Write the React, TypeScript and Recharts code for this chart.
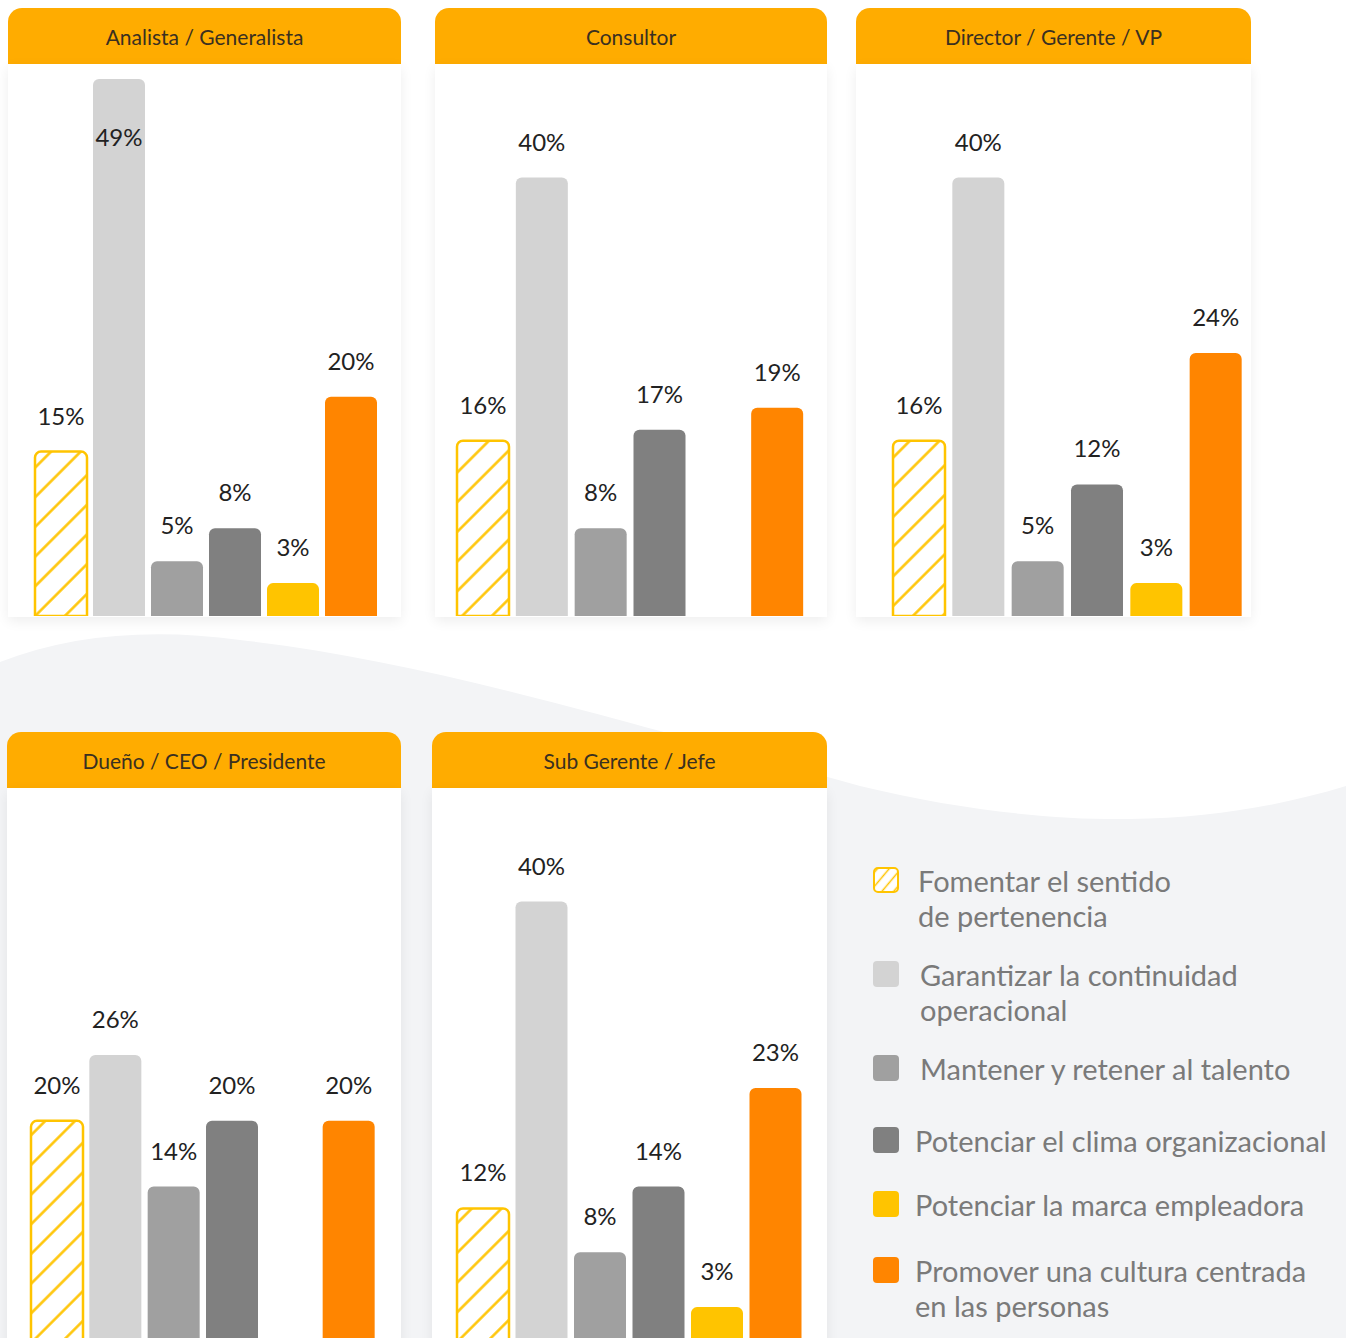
import React from 'react';
import { BarChart, Bar, XAxis, YAxis, Cell, LabelList } from 'recharts';

// categories in legend order (line breaks as in the legend)
const CATEGORIES = [
    'Fomentar el sentido\nde pertenencia',
    'Garantizar la continuidad\noperacional',
    'Mantener y retener al talento',
    'Potenciar el clima organizacional',
    'Potenciar la marca empleadora',
    'Promover una cultura centrada\nen las personas',
];

const COLORS = ['url(#hatch)', '#D3D3D3', '#A0A0A0', '#808080', '#FFC400', '#FF8500'];

// % per role, same order as CATEGORIES (null = no bar)
const ANALISTA = [15, 49, 5, 8, 3, 20];
const CONSULTOR = [16, 40, 8, 17, null, 19];
const DIRECTOR = [16, 40, 5, 12, 3, 24];
const DUENO = [20, 26, 14, 20, null, 20];
const SUBGERENTE = [12, 40, 8, 14, 3, 23];

const FONT = 'Lato, "Noto Sans", sans-serif';
const HATCH_YELLOW = '#FFC400';

interface PanelProps {
    title: string;
    values: (number | null)[];
    left: number;
    top: number;
    width: number;
    bodyHeight: number;
    ml: number;
    mr: number;
}

const renderLabel = (props: any) => {
    const { x, y, width, value } = props;
    if (value === null || value === undefined) return null;
    const cx = Number(x) + Number(width) / 2;
    // labels never go higher than the top of the chart area
    const ty = Math.max(Number(y) - 27, 82);
    return (
        <text x={cx} y={ty} textAnchor="middle" fontSize={24} fill="#222" fontFamily={FONT}>
            {`${value}%`}
        </text>
    );
};

function Panel({ title, values, left, top, width, bodyHeight, ml, mr }: PanelProps) {
    const data = CATEGORIES.map((c, i) => ({ name: c, value: values[i] }));
    return (
        <div style={{ position: 'absolute', left, top, width }}>
            <div
                style={{
                    height: 56,
                    background: '#FFAC00',
                    borderRadius: '14px 14px 0 0',
                    display: 'flex',
                    alignItems: 'center',
                    justifyContent: 'center',
                    fontFamily: FONT,
                    fontSize: 21,
                    color: '#3a3020',
                }}
            >
                {title}
            </div>
            <div
                style={{
                    height: bodyHeight,
                    background: '#fff',
                    boxShadow: '0 4px 12px rgba(0,0,0,0.07)',
                    position: 'relative',
                }}
            >
                <BarChart
                    width={width}
                    height={552}
                    data={data}
                    margin={{ top: 4, right: mr, left: ml, bottom: 0 }}
                    barCategoryGap={0}
                >
                    <XAxis dataKey="name" hide />
                    <YAxis domain={[0, 50]} hide />
                    <Bar dataKey="value" barSize={52} radius={[6, 6, 0, 0]} isAnimationActive={false}>
                        {data.map((d, i) => (
                            <Cell
                                key={d.name}
                                fill={COLORS[i]}
                                stroke={i === 0 ? HATCH_YELLOW : 'none'}
                                strokeWidth={i === 0 ? 2.5 : 0}
                            />
                        ))}
                        <LabelList dataKey="value" content={renderLabel} />
                    </Bar>
                </BarChart>
            </div>
        </div>
    );
}

const LEGEND_TOPS = [863, 957, 1051, 1123, 1187, 1253];
const LEGEND_TEXT_X = [918, 920, 920, 915, 915, 915];

export default function App() {
    return (
        <div
            style={{
                position: 'absolute',
                left: 0,
                top: 0,
                width: 1346,
                height: 1338,
                overflow: 'hidden',
                background: '#fff',
                fontFamily: FONT,
            }}
        >
            <svg width={0} height={0} style={{ position: 'absolute' }}>
                <defs>
                    <pattern id="hatch" patternUnits="userSpaceOnUse" width={21} height={21} patternTransform="rotate(-45)">
                        <rect width={21} height={21} fill="#fff" />
                        <line x1={0} y1={10.5} x2={21} y2={10.5} stroke={HATCH_YELLOW} strokeWidth={2.5} />
                    </pattern>
                    <pattern id="hatchSmall" patternUnits="userSpaceOnUse" width={9} height={9} patternTransform="rotate(-50)">
                        <rect width={9} height={9} fill="#fff" />
                        <line x1={0} y1={4.5} x2={9} y2={4.5} stroke={HATCH_YELLOW} strokeWidth={1.5} />
                    </pattern>
                </defs>
            </svg>

            {/* grey wave background */}
            <svg width={1346} height={1338} style={{ position: 'absolute', left: 0, top: 0 }}>
                <path
                    d="M0,662 C70,635 150,628 240,640 C420,660 600,715 860,786 C960,810 1050,820 1130,819 C1210,818 1280,806 1346,786 L1346,1338 L0,1338 Z"
                    fill="#F3F4F6"
                />
            </svg>

            <Panel title="Analista / Generalista" values={ANALISTA} left={8} top={8} width={393} bodyHeight={553} ml={24} mr={21} />
            <Panel title="Consultor" values={CONSULTOR} left={435} top={8} width={392} bodyHeight={553} ml={19} mr={20} />
            <Panel title="Director / Gerente / VP" values={DIRECTOR} left={856} top={8} width={395} bodyHeight={553} ml={33} mr={6} />
            <Panel title="Dueño / CEO / Presidente" values={DUENO} left={7} top={732} width={394} bodyHeight={620} ml={21} mr={23} />
            <Panel title="Sub Gerente / Jefe" values={SUBGERENTE} left={432} top={732} width={395} bodyHeight={620} ml={22} mr={22} />

            {CATEGORIES.map((c, i) => (
                <div
                    key={c}
                    style={{ position: 'absolute', left: 873, top: LEGEND_TOPS[i], display: 'flex', alignItems: 'flex-start' }}
                >
                    <svg width={27} height={27} style={{ marginTop: 4, flex: 'none' }}>
                        {i === 0 ? (
                            <rect x={1} y={1} width={24} height={24} rx={4} fill="url(#hatchSmall)" stroke={HATCH_YELLOW} strokeWidth={2} />
                        ) : (
                            <rect x={0} y={0} width={26} height={26} rx={4} fill={COLORS[i]} />
                        )}
                    </svg>
                    <div
                        style={{
                            marginLeft: LEGEND_TEXT_X[i] - 873 - 27,
                            fontSize: 29,
                            lineHeight: '35px',
                            color: '#7a7a7a',
                            whiteSpace: 'pre-line',
                        }}
                    >
                        {c}
                    </div>
                </div>
            ))}
        </div>
    );
}
